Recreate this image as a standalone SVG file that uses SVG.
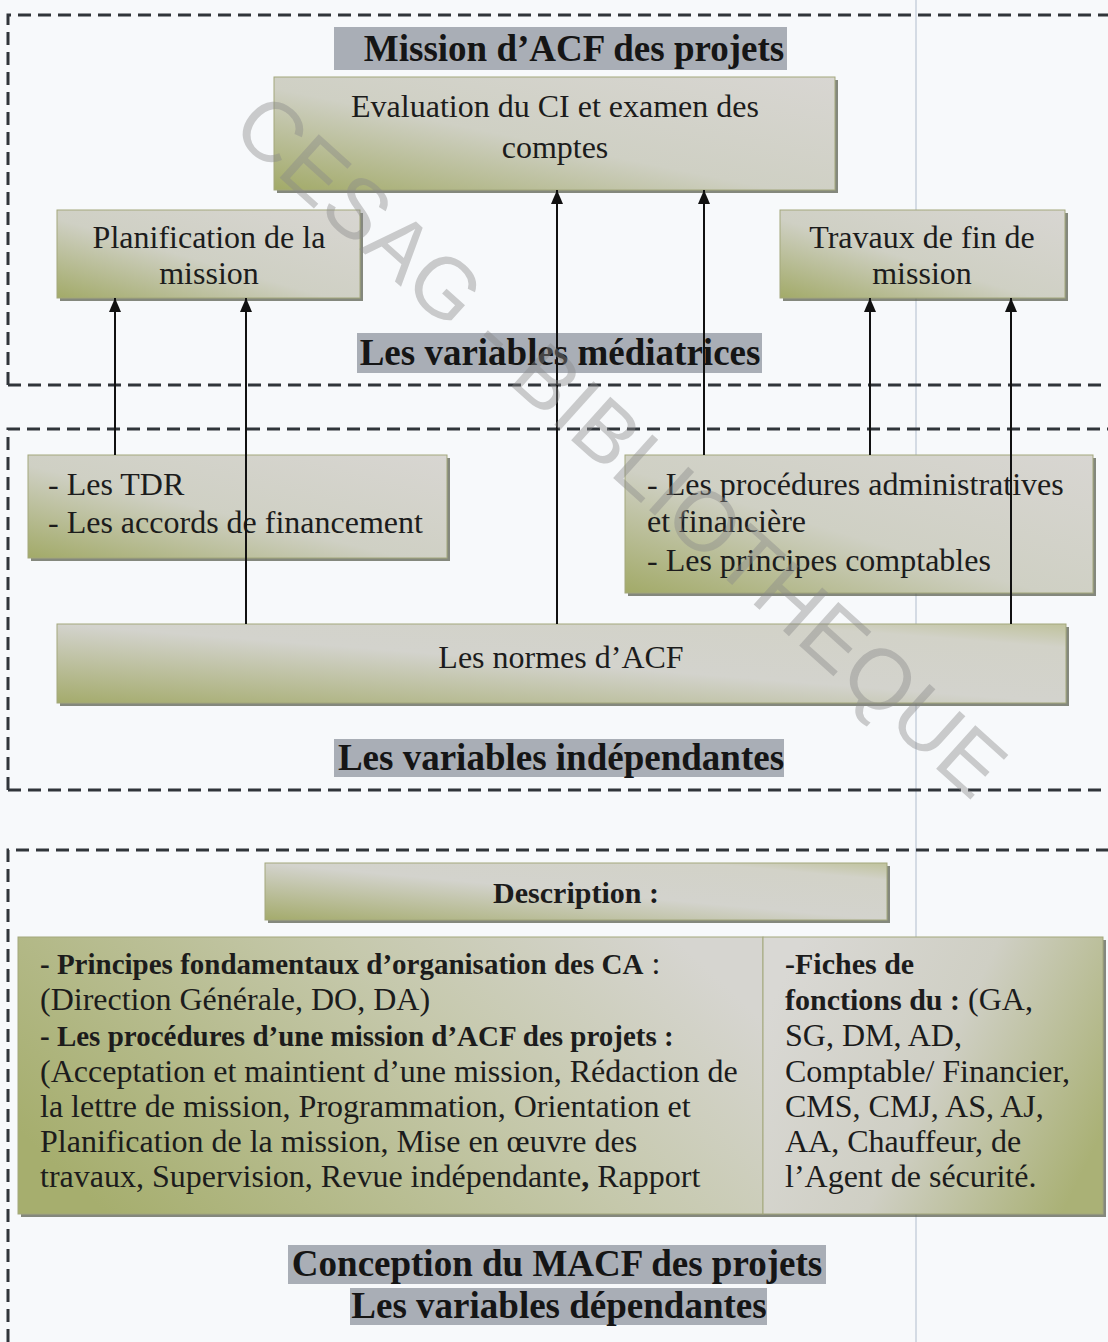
<svg xmlns="http://www.w3.org/2000/svg" width="1108" height="1342" viewBox="0 0 1108 1342">
<defs>
<linearGradient id="gBox" x1="0" y1="1" x2="1" y2="0">
<stop offset="0" stop-color="#a2aa68"/>
<stop offset="0.45" stop-color="#cfd0c4"/>
<stop offset="1" stop-color="#d8d6d2"/>
</linearGradient>
<linearGradient id="gWide" x1="0" y1="1" x2="1" y2="0">
<stop offset="0" stop-color="#a4ab6c"/>
<stop offset="0.5" stop-color="#d3d3cd"/>
<stop offset="0.85" stop-color="#d2d2c8"/>
<stop offset="1" stop-color="#bfc29c"/>
</linearGradient>
<linearGradient id="gLeft" x1="0" y1="0.7" x2="1" y2="0.3">
<stop offset="0" stop-color="#a6ae6e"/>
<stop offset="0.6" stop-color="#c5c8ab"/>
<stop offset="1" stop-color="#d6d5d0"/>
</linearGradient>
<linearGradient id="gRight" x1="0" y1="0.3" x2="1" y2="0.7">
<stop offset="0" stop-color="#d9d8d4"/>
<stop offset="0.5" stop-color="#cfcfc4"/>
<stop offset="1" stop-color="#aab176"/>
</linearGradient>
<marker id="ah" viewBox="0 0 14 12" refX="14" refY="6" markerWidth="14" markerHeight="12" markerUnits="userSpaceOnUse" orient="auto">
<path d="M0,0 L14,6 L0,12 z" fill="#111"/>
</marker>
</defs>
<style>
.t{font-family:"Liberation Serif","Times New Roman",serif;font-size:32px;fill:#1c1c1c}
.m{text-anchor:middle}
.b{font-weight:bold}
.sb{font-weight:bold;font-size:29px}
.lbl{font-family:"Liberation Serif","Times New Roman",serif;font-size:37px;font-weight:bold;fill:#151515;text-anchor:middle}
.lblbg{fill:#a9aeb6}
.box{stroke:#a3a77c;stroke-width:1}
.sh{fill:#5e6253;opacity:0.75}
.dash{fill:none;stroke:#30353a;stroke-width:3;stroke-dasharray:13 7}
.conn{stroke:#111;stroke-width:2;fill:none;marker-end:url(#ah)}
.wm{font-family:"Liberation Sans",Arial,sans-serif;font-size:85px;fill:#8a8a8a;opacity:0.42}
</style>
<rect width="1108" height="1342" fill="#f7f9fb"/>
<line x1="916" y1="0" x2="916" y2="1342" stroke="#c9d1dd" stroke-width="1.5"/>
<g id="frames">
<path class="dash" d="M8,385 L8,15 L1108,15 M8,385 L1108,385"/>
<path class="dash" d="M8,790 L8,429 L1108,429 M8,790 L1108,790"/>
<path class="dash" d="M8,1342 L8,850 L1108,850"/>
</g>
<g id="label-mission">
<rect class="lblbg" x="334" y="27" width="453" height="43"/>
<text class="lbl" x="574" y="61">Mission d’ACF des projets</text>
</g>
<g id="node-evaluation">
<rect class="sh" x="277" y="80" width="561" height="113"/>
<rect class="box" x="274" y="77" width="561" height="113" fill="url(#gBox)"/>
<text class="t m" x="555" y="117">Evaluation du CI et examen des</text>
<text class="t m" x="555" y="158">comptes</text>
</g>
<g id="node-planification">
<rect class="sh" x="60" y="213" width="303" height="88"/>
<rect class="box" x="57" y="210" width="303" height="88" fill="url(#gBox)"/>
<text class="t m" x="209" y="248">Planification de la</text>
<text class="t m" x="209" y="284">mission</text>
</g>
<g id="node-travaux">
<rect class="sh" x="783" y="213" width="285" height="88"/>
<rect class="box" x="780" y="210" width="285" height="88" fill="url(#gBox)"/>
<text class="t m" x="922" y="248">Travaux de fin de</text>
<text class="t m" x="922" y="284">mission</text>
</g>
<g id="label-mediatrices">
<rect class="lblbg" x="357" y="333" width="405" height="40"/>
<text class="lbl" x="560" y="365">Les variables médiatrices</text>
</g>
<g id="node-tdr">
<rect class="sh" x="31" y="458" width="419" height="103"/>
<rect class="box" x="28" y="455" width="419" height="103" fill="url(#gBox)"/>
<text class="t" x="48" y="495">- Les TDR</text>
<text class="t" x="48" y="533">- Les accords de financement</text>
</g>
<g id="node-procedures">
<rect class="sh" x="628" y="458" width="468" height="138"/>
<rect class="box" x="625" y="455" width="468" height="138" fill="url(#gBox)"/>
<text class="t" x="647" y="495">- Les procédures administratives</text>
<text class="t" x="647" y="532">et financière</text>
<text class="t" x="647" y="571">- Les principes comptables</text>
</g>
<g id="node-normes">
<rect class="sh" x="60" y="627" width="1009" height="79"/>
<rect class="box" x="57" y="624" width="1009" height="79" fill="url(#gWide)"/>
<text class="t m" x="561" y="668">Les normes d’ACF</text>
</g>
<g id="label-independantes">
<rect class="lblbg" x="334" y="739" width="450" height="38"/>
<text class="lbl" x="561" y="770">Les variables indépendantes</text>
</g>
<g id="node-description">
<rect class="sh" x="268" y="866" width="622" height="57"/>
<rect class="box" x="265" y="863" width="622" height="57" fill="url(#gWide)"/>
<text class="t b m" x="576" y="903" style="font-size:30px">Description :</text>
</g>
<g id="node-contenu">
<rect class="sh" x="21" y="940" width="1085" height="277"/>
<rect class="box" x="18" y="937" width="745" height="277" fill="url(#gLeft)"/>
<rect class="box" x="763" y="937" width="340" height="277" fill="url(#gRight)"/>
<text class="t" x="40" y="974"><tspan class="sb">- Principes fondamentaux d’organisation des CA</tspan> :</text>
<text class="t" x="40" y="1010">(Direction Générale, DO, DA)</text>
<text class="t" x="40" y="1046"><tspan class="sb">- Les procédures d’une mission d’ACF des projets :</tspan></text>
<text class="t" x="40" y="1082">(Acceptation et maintient d’une mission, Rédaction de</text>
<text class="t" x="40" y="1117">la lettre de mission, Programmation, Orientation et</text>
<text class="t" x="40" y="1152">Planification de la mission, Mise en œuvre des</text>
<text class="t" x="40" y="1187">travaux, Supervision, Revue indépendante<tspan class="b">,</tspan> Rapport</text>
<text class="t" x="785" y="974"><tspan class="b" style="font-size:30px">-Fiches de</tspan></text>
<text class="t" x="785" y="1010"><tspan class="b" style="font-size:30px">fonctions du :</tspan> (GA,</text>
<text class="t" x="785" y="1046">SG, DM, AD,</text>
<text class="t" x="785" y="1082">Comptable/ Financier,</text>
<text class="t" x="785" y="1117">CMS, CMJ, AS, AJ,</text>
<text class="t" x="785" y="1152">AA, Chauffeur, de</text>
<text class="t" x="785" y="1187">l’Agent de sécurité.</text>
</g>
<g id="label-conception">
<rect class="lblbg" x="288" y="1245" width="538" height="39"/>
<text class="lbl" x="557" y="1276">Conception du MACF des projets</text>
<rect class="lblbg" x="350" y="1288" width="417" height="37"/>
<text class="lbl" x="559" y="1318">Les variables dépendantes</text>
</g>
<g id="connectors">
<line class="conn" x1="115" y1="455" x2="115" y2="298"/>
<line class="conn" x1="246" y1="624" x2="246" y2="298"/>
<line class="conn" x1="557" y1="624" x2="557" y2="190"/>
<line class="conn" x1="704" y1="455" x2="704" y2="190"/>
<line class="conn" x1="870" y1="455" x2="870" y2="298"/>
<line class="conn" x1="1011" y1="624" x2="1011" y2="298"/>
</g>
<text class="wm" transform="translate(229,132) rotate(42)">CESAG - BIBLIOTHEQUE</text>
</svg>
